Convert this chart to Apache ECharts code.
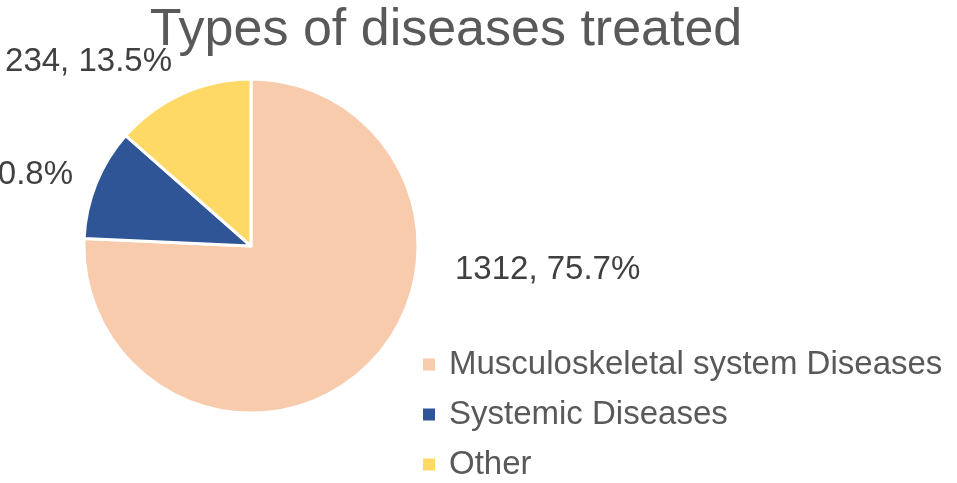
<!DOCTYPE html>
<html>
<head>
<meta charset="utf-8">
<script src="https://cdn.jsdelivr.net/npm/echarts@6/dist/echarts.min.js"></script>
<style>
  html, body { margin: 0; padding: 0; background: #fff; }
  #chart { width: 957px; height: 483px; }
</style>
</head>
<body>
<div id="chart"></div>
<script>
// data
const categories = ['Musculoskeletal system Diseases', 'Systemic Diseases', 'Other']
const counts = [1312, 187, 234]
const colors = ['#F8CBAD', '#2F5597', '#FFD966']

// where Excel put each data label (left/right anchor, middle y)
const labelSpots = [
  { x: 455, y: 270, align: 'left' },
  { x: 73, y: 175, align: 'right' },
  { x: 172, y: 62, align: 'right' }
]

const FONT = 'Liberation Sans'

const chart = echarts.init(document.getElementById('chart'))
chart.setOption({
  animation: false,
  title: {
    text: 'Types of diseases treated',
    left: 441,
    top: 0,
    textAlign: 'center',
    textStyle: { fontFamily: FONT, fontSize: 52, fontWeight: 'normal', color: '#595959' }
  },
  legend: {
    orient: 'vertical',
    left: 416,
    top: 343,
    height: 200,
    itemWidth: 14,
    itemHeight: 14,
    itemGap: 17,
    icon: 'rect',
    textStyle: { fontFamily: FONT, fontSize: 33, color: '#595959', padding: [0, 0, 0, 8] },
    data: categories
  },
  series: [{
    type: 'pie',
    center: [251, 246],
    radius: [0, 167],
    startAngle: 90,
    clockwise: true,
    itemStyle: { borderColor: '#fff', borderWidth: 3 },
    label: {
      show: true,
      position: 'outside',
      overflow: 'none',
      fontFamily: FONT,
      fontSize: 33,
      color: '#404040',
      formatter: p => p.value + ', ' + p.percent.toFixed(1) + '%'
    },
    labelLine: { show: false },
    labelLayout: p => {
      const s = labelSpots[p.dataIndex]
      return { x: s.x, y: s.y, align: s.align, verticalAlign: 'middle' }
    },
    emphasis: { disabled: true },
    data: categories.map((name, i) => ({
      name: name,
      value: counts[i],
      itemStyle: { color: colors[i] }
    }))
  }]
})
</script>
</body>
</html>
